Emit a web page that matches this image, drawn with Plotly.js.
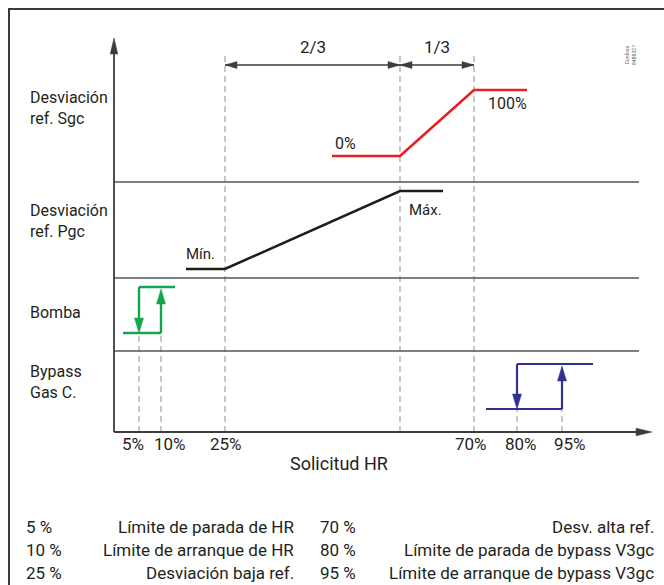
<!DOCTYPE html>
<html><head><meta charset="utf-8">
<script src="https://cdn.plot.ly/plotly-3.0.1.min.js"></script>
<style>html,body{margin:0;padding:0;background:#fff}#chart{width:664px;height:585px}</style>
</head><body><div id="chart"></div>
<script>
// ---- Values read from the schematic (diagram units along the axes) ----
const thresholdLabels = ['5%', '10%', '25%', '70%', '80%', '95%'];
const thresholdX = [25, 47, 111, 360, 403, 448];
const midX = 286;                       // 2/3 point between 25% and 70%
const labelShift = [-6, 9, 1, -3, 4, 8];

const bandBounds = [81, 154, 250];
const bandLabels = ['Desviación<br>ref. Sgc', 'Desviación<br>ref. Pgc', 'Bomba', 'Bypass<br>Gas C.'];
const bandLabelY = [324, 211, 120, 50];

const sgcX = [218, 286, 360, 413];
const sgcY = [276, 276, 342, 342];
const pgcX = [72, 111, 286, 329];
const pgcY = [163, 163, 241, 241];

const pumpLevels = [99, 145];
const pumpLowX = [9, 47];
const pumpHighX = [25, 61];
const bypLevels = [23, 68];
const bypLowX = [372, 448];
const bypHighX = [403, 479];

const tableLeftPct = ['5 %', '10 %', '25 %'];
const tableLeftText = ['Límite de parada de HR', 'Límite de arranque de HR', 'Desviación baja ref.'];
const tableRightPct = ['70 %', '80 %', '95 %'];
const tableRightText = ['Desv. alta ref.', 'Límite de parada de bypass V3gc', 'Límite de arranque de bypass V3gc'];

// ---- styles ----
const FONT = 'Roboto, "Noto Sans", sans-serif';
const TXT = '#231f20';
const AX = '#3c3c3c';
const BAND = '#555555';
const DASH = '#a3a3a3';
const RED = '#ec1c24', GREEN = '#12a64b', BLUE = '#2e3192', BLACK = '#1d1d1b';

const traces = [];
function seg(xs, ys, color, width, dash) {
  traces.push({type: 'scatter', mode: 'lines', x: xs, y: ys, hoverinfo: 'skip',
    line: {color: color, width: width, dash: dash || 'solid'}});
}
function head(x, y, dir, color, len, hw) {
  let xs, ys;
  if (dir === 'up') { xs = [x, x - hw, x + hw, x]; ys = [y, y - len, y - len, y]; }
  else if (dir === 'down') { xs = [x, x - hw, x + hw, x]; ys = [y, y + len, y + len, y]; }
  else if (dir === 'right') { xs = [x, x - len, x - len, x]; ys = [y, y - hw, y + hw, y]; }
  else { xs = [x, x + len, x + len, x]; ys = [y, y - hw, y + hw, y]; }
  traces.push({type: 'scatter', mode: 'lines', x: xs, y: ys, fill: 'toself', fillcolor: color,
    line: {color: color, width: 0.5}, hoverinfo: 'skip'});
}

// dashed guide lines
[thresholdX[2], midX, thresholdX[3]].forEach(x => seg([x, x], [0, 380], DASH, 1.2, '6px,4px'));
[thresholdX[0], thresholdX[1]].forEach(x => seg([x, x], [0, pumpLevels[0]], DASH, 1.2, '6px,4px'));
[thresholdX[4], thresholdX[5]].forEach(x => seg([x, x], [0, bypLevels[0]], DASH, 1.2, '6px,4px'));

// band separators
bandBounds.forEach(y => seg([0, 525], [y, y], BAND, 1.6));

// axes
seg([0, 0], [0, 380], AX, 1.8);
head(0, 394, 'up', AX, 16, 3.8);
seg([0, 525], [0, 0], AX, 1.8);
head(538, 0, 'right', AX, 16, 3.8);

// dimension arrows
seg([thresholdX[2], midX], [367, 367], AX, 1.4);
seg([midX, thresholdX[3]], [367, 367], AX, 1.4);
head(thresholdX[2], 367, 'left', AX, 12, 3.5);
head(midX, 367, 'right', AX, 12, 3.5);
head(midX, 367, 'left', AX, 12, 3.5);
head(thresholdX[3], 367, 'right', AX, 12, 3.5);

// Sgc (red) and Pgc (black)
seg(sgcX, sgcY, RED, 2.6);
seg(pgcX, pgcY, BLACK, 2.6);

// Pump hysteresis (green)
seg(pumpLowX, [pumpLevels[0], pumpLevels[0]], GREEN, 2.4);
seg(pumpHighX, [pumpLevels[1], pumpLevels[1]], GREEN, 2.4);
seg([pumpLowX[1], pumpLowX[1]], [pumpLevels[0], pumpLevels[1] - 14], GREEN, 2.4);
seg([pumpHighX[0], pumpHighX[0]], [pumpLevels[1], pumpLevels[0] + 14], GREEN, 2.4);
head(pumpHighX[0], pumpLevels[0], 'down', GREEN, 15, 4.5);
head(pumpLowX[1], pumpLevels[1] - 2, 'up', GREEN, 15, 4.5);

// Bypass hysteresis (blue)
seg(bypLowX, [bypLevels[0], bypLevels[0]], BLUE, 2.2);
seg(bypHighX, [bypLevels[1], bypLevels[1]], BLUE, 2.2);
seg([bypHighX[0], bypHighX[0]], [bypLevels[1], bypLevels[0] + 14], BLUE, 2.2);
seg([bypLowX[1], bypLowX[1]], [bypLevels[0], bypLevels[1] - 14], BLUE, 2.2);
head(bypHighX[0], bypLevels[0], 'down', BLUE, 15, 4.5);
head(bypLowX[1], bypLevels[1] - 2, 'up', BLUE, 15, 4.5);

// ---- text ----
const ann = [];
function txt(x, y, t, size, anchor, extra) {
  ann.push(Object.assign({x: x, y: y, xref: 'x', yref: 'y', text: t, showarrow: false,
    xanchor: anchor || 'center', yanchor: 'middle', font: {family: FONT, size: size, color: TXT}}, extra || {}));
}
bandLabels.forEach((t, i) => txt(-86, bandLabelY[i], t, 16, 'left', {align: 'left'}));
thresholdLabels.forEach((t, i) => txt(thresholdX[i] + labelShift[i], -12, t, 17));
txt(225, -31, 'Solicitud HR', 18);
txt((thresholdX[2] + midX) / 2, 385, '2/3', 17);
txt((midX + thresholdX[3]) / 2, 385, '1/3', 17);
txt(sgcX[0] + 13, 289, '0%', 16);
txt(sgcX[3] - 20, 329, '100%', 16);
txt(pgcX[0] + 14, 178, 'Mín.', 15);
txt(pgcX[3] - 18, 222, 'Máx.', 15);
txt(516, 377, 'Danfoss<br>84B8327', 5, 'center', {textangle: -90, font: {family: FONT, size: 5, color: '#666'}});

const rowY = [-95, -118, -141];
rowY.forEach((y, i) => {
  txt(-90, y, tableLeftPct[i], 17, 'left');
  txt(182, y, tableLeftText[i], 17, 'right');
  txt(204, y, tableRightPct[i], 17, 'left');
  txt(542, y, tableRightText[i], 17, 'right');
});

const layout = {
  width: 664, height: 585,
  margin: {l: 0, r: 0, t: 0, b: 0, pad: 0},
  paper_bgcolor: '#fff', plot_bgcolor: '#fff',
  showlegend: false,
  xaxis: {range: [-114, 550], visible: false, fixedrange: true},
  yaxis: {range: [-153, 432], visible: false, fixedrange: true},
  shapes: [{type: 'rect', xref: 'x', yref: 'y', x0: -105, x1: 700, y0: 423, y1: -300,
    line: {color: '#3a3a3a', width: 2}, fillcolor: 'rgba(0,0,0,0)'}],
  annotations: ann
};
Plotly.newPlot('chart', traces, layout, {staticPlot: true, displayModeBar: false});
</script></body></html>
